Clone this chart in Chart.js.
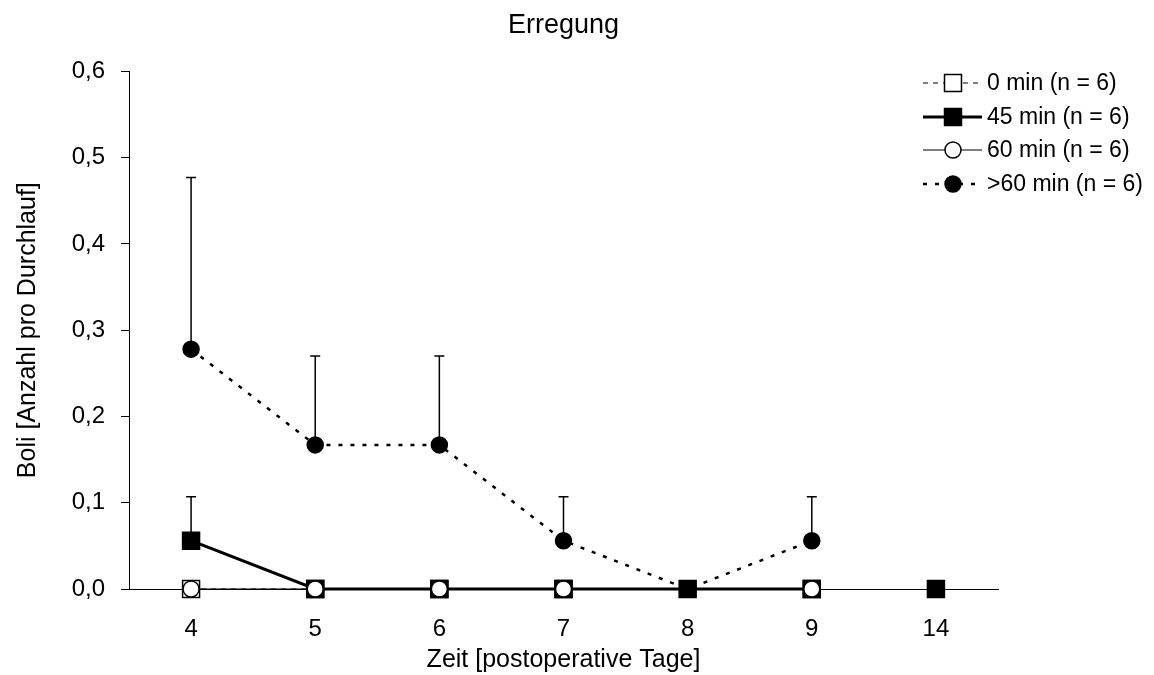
<!DOCTYPE html>
<html>
<head>
<meta charset="utf-8">
<script src="https://cdn.jsdelivr.net/npm/chart.js@4/dist/chart.umd.min.js"></script>
<style>
  body { margin: 0; background: #fff; }
</style>
</head>
<body>
<canvas id="chart" width="1154" height="675"></canvas>
<script>
// Tage nach der OP
const tage = ['4', '5', '6', '7', '8', '9', '14'];

// Mittelwerte
const min0 = [0, 0, 0, 0, null, 0, null];
const min45 = [0.056, 0, 0, 0, 0, 0, 0];
const min60 = [0, 0, 0, 0, null, 0, null];
const min60plus = [0.278, 0.167, 0.167, 0.056, 0, 0.056, null];

// Fehlerbalken (nur nach oben)
const fehler45 = [0.051, 0, 0, 0, 0, 0, 0];
const fehler60plus = [0.199, 0.103, 0.103, 0.051, 0, 0.051, null];

const yTicks = [0, 0.1, 0.2, 0.3, 0.4, 0.5, 0.6];

const schrift = '"Liberation Sans", Arial, sans-serif';
Chart.defaults.font.family = schrift;
Chart.defaults.color = '#000';

const fehlerPlugin = {
  id: 'fehler',
  beforeDatasetsDraw(chart) {
    const ctx = chart.ctx;
    const y = chart.scales.y;
    const paare = [[1, fehler45], [3, fehler60plus]];
    ctx.save();
    ctx.strokeStyle = '#000';
    ctx.lineWidth = 1.5;
    paare.forEach(([idx, err]) => {
      const meta = chart.getDatasetMeta(idx);
      const werte = chart.data.datasets[idx].data;
      meta.data.forEach((pt, i) => {
        if (werte[i] == null || !err[i]) return;
        const y0 = y.getPixelForValue(werte[i]);
        const y1 = y.getPixelForValue(werte[i] + err[i]);
        ctx.beginPath();
        ctx.moveTo(pt.x, y0);
        ctx.lineTo(pt.x, y1);
        ctx.moveTo(pt.x - 5, y1);
        ctx.lineTo(pt.x + 5, y1);
        ctx.stroke();
      });
    });
    ctx.restore();
  }
};

const legendePlugin = {
  id: 'legende',
  afterDraw(chart) {
    const ctx = chart.ctx;
    ctx.save();
    const ys = [83, 117, 150, 184];
    chart.data.datasets.forEach((ds, i) => {
      const yy = ys[i];
      ctx.strokeStyle = '#000';
      ctx.lineWidth = ds.borderWidth;
      ctx.setLineDash(ds.borderDash || []);
      ctx.beginPath();
      ctx.moveTo(923, yy);
      ctx.lineTo(982, yy);
      ctx.stroke();
      ctx.setLineDash([]);
      ctx.fillStyle = ds.pointBackgroundColor;
      ctx.strokeStyle = '#000';
      ctx.lineWidth = ds.pointBorderWidth;
      Chart.helpers.drawPoint(ctx, {
        pointStyle: ds.pointStyle,
        radius: ds.pointRadius,
        rotation: 0,
        borderWidth: ds.pointBorderWidth
      }, 953, yy);
      ctx.fillStyle = '#000';
      ctx.font = '23px ' + schrift;
      ctx.textAlign = 'left';
      ctx.textBaseline = 'middle';
      ctx.fillText(ds.label, 987, yy + 1);
    });
    ctx.restore();
  }
};

new Chart(document.getElementById('chart'), {
  type: 'line',
  data: {
    labels: tage,
    datasets: [
      {
        label: '0 min (n = 6)',
        data: min0,
        order: 3,
        borderColor: '#000',
        borderWidth: 1,
        borderDash: [5, 5],
        pointStyle: 'rect',
        pointRadius: 12,
        pointBackgroundColor: '#fff',
        pointBorderColor: '#000',
        pointBorderWidth: 1.5
      },
      {
        label: '45 min (n = 6)',
        data: min45,
        order: 1,
        borderColor: '#000',
        borderWidth: 3,
        pointStyle: 'rect',
        pointRadius: 12,
        pointBackgroundColor: '#000',
        pointBorderColor: '#000',
        pointBorderWidth: 1.5,
        // Tag 14 ist nicht mit Tag 9 verbunden
        segment: {
          borderColor: c => c.p1DataIndex === 6 ? 'rgba(0,0,0,0)' : undefined
        }
      },
      {
        label: '60 min (n = 6)',
        data: min60,
        order: 0,
        borderColor: '#000',
        borderWidth: 1,
        pointStyle: 'circle',
        pointRadius: 8,
        pointBackgroundColor: '#fff',
        pointBorderColor: '#000',
        pointBorderWidth: 1.5
      },
      {
        label: '>60 min (n = 6)',
        data: min60plus,
        order: 2,
        borderColor: '#000',
        borderWidth: 2.5,
        borderDash: [4, 8],
        pointStyle: 'circle',
        pointRadius: 8,
        pointBackgroundColor: '#000',
        pointBorderColor: '#000',
        pointBorderWidth: 1.5
      }
    ]
  },
  options: {
    responsive: false,
    animation: false,
    spanGaps: false,
    datasets: { line: { clip: false } },
    layout: { padding: { left: 0, right: 156, top: 0, bottom: 0 } },
    plugins: {
      legend: { display: false },
      tooltip: { enabled: false },
      title: {
        display: true,
        fullSize: false,
        text: 'Erregung',
        font: { size: 27, weight: 'normal' },
        padding: { top: 9, bottom: 30 }
      }
    },
    scales: {
      x: {
        offset: true,
        grid: { display: false, drawTicks: false },
        border: { display: true, color: '#000', width: 1 },
        ticks: { font: { size: 24 }, padding: 26 },
        title: {
          display: true,
          text: 'Zeit [postoperative Tage]',
          font: { size: 25 },
          padding: { top: 0, bottom: 0 }
        },
        afterFit: s => { s.height = 86; }
      },
      y: {
        min: 0,
        max: 0.6,
        afterBuildTicks: s => { s.ticks = yTicks.map(v => ({ value: v })); },
        grid: { display: true, drawOnChartArea: false, drawTicks: true, tickLength: 8, color: '#000' },
        border: { display: true, color: '#000', width: 1 },
        ticks: {
          font: { size: 24 },
          padding: 16,
          callback: v => v.toFixed(1).replace('.', ',')
        },
        title: {
          display: true,
          text: 'Boli [Anzahl pro Durchlauf]',
          font: { size: 25 },
          padding: { top: 13, bottom: 0 }
        },
        afterFit: s => { s.width = 129; }
      }
    }
  },
  plugins: [fehlerPlugin, legendePlugin]
});
</script>
</body>
</html>
